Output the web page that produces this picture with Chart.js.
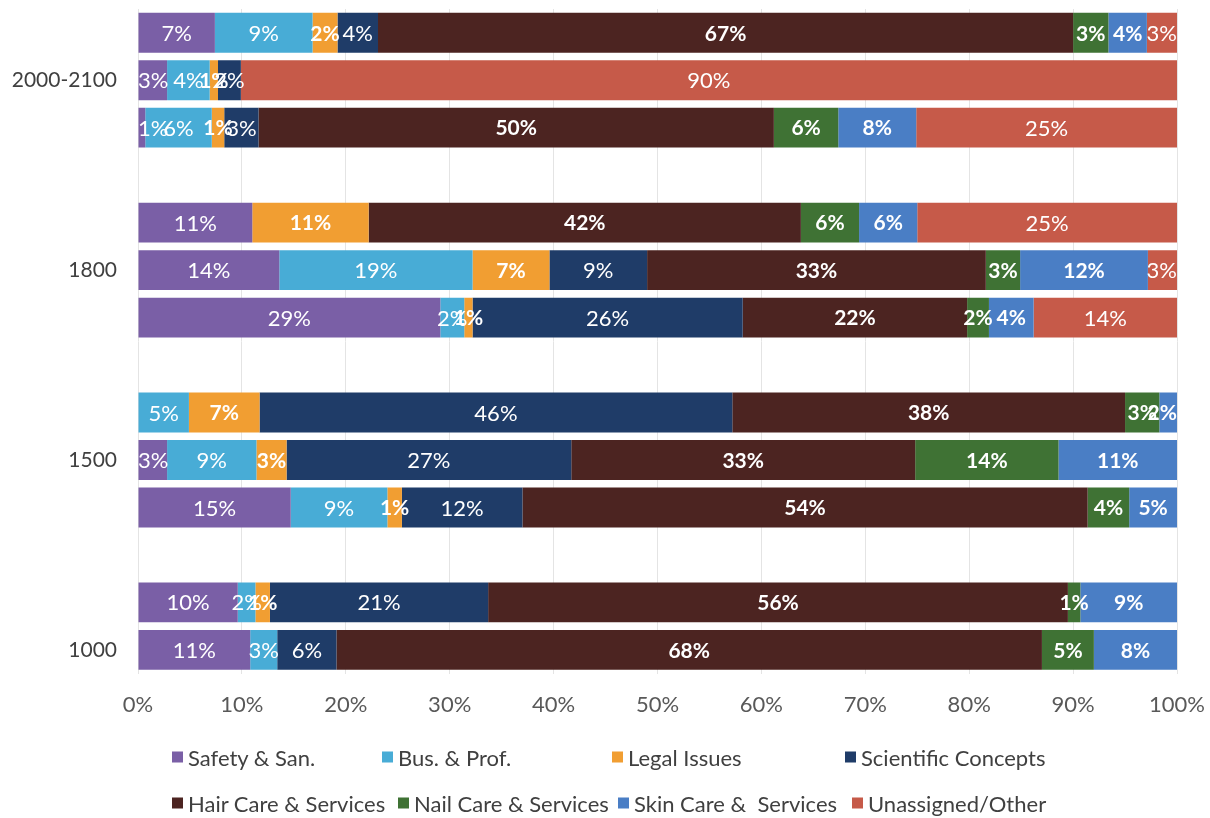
<!DOCTYPE html>
<html>
<head>
<meta charset="utf-8">
<script src="https://cdn.jsdelivr.net/npm/chart.js@4.4.1/dist/chart.umd.min.js"></script>
<style>
    html, body { margin: 0; padding: 0; background: #ffffff; }
    #wrap { position: relative; width: 1210px; height: 818px; overflow: hidden; }
    #legenda { position: absolute; left: 0; top: 0; width: 1210px; height: 818px; pointer-events: none; }
    .leg-item { position: absolute; display: flex; align-items: center; font-family: Lato, 'Open Sans', sans-serif; font-size: 22px; color: #404040; white-space: pre; transform: translateY(-50%); }
    .leg-box { width: 11px; height: 11px; margin-right: 5px; }
</style>
</head>
<body>
<div id="wrap">
    <canvas id="grafico" width="1210" height="818"></canvas>
    <div id="legenda"></div>
</div>
<script>
// categorias (faixas vazias separam os grupos)
const categorias = ['', '2000-2100', '', '', '', '1800', '', '', '', '1500', '', '', '', '1000'];

// participação (%) de cada tema por barra
const safety     = [7.4, 2.8, 0.7, null, 11.0, 13.6, 29.1, null, 0,    2.8,  14.7, null, 9.6,  10.8];
const business   = [9.4, 4.1, 6.4, null, 0,    18.6, 2.3,  null, 4.9,  8.6,  9.3,  null, 1.7,  2.6];
const legal      = [2.4, 0.8, 1.2, null, 11.2, 7.4,  0.8,  null, 6.8,  2.9,  1.4,  null, 1.4,  0];
const scientific = [3.9, 2.2, 3.3, null, 0,    9.4,  26.0, null, 45.5, 27.4, 11.6, null, 21.0, 5.7];
const hair       = [66.9, 0,  49.6, null, 41.6, 32.6, 21.6, null, 37.8, 33.1, 54.4, null, 55.8, 67.9];
const nail       = [3.4, 0,   6.2, null, 5.6,  3.3,  2.1,  null, 3.3,  13.8, 4.0,  null, 1.2,  5.0];
const skin       = [3.7, 0,   7.5, null, 5.6,  12.3, 4.3,  null, 1.7,  11.4, 4.6,  null, 9.3,  8.0];
const other      = [2.9, 90.1, 25.1, null, 25.0, 2.8, 13.8, null, 0,   0,    0,    null, 0,    0];

const tickPct = [0, 10, 20, 30, 40, 50, 60, 70, 80, 90, 100];

const series = [
    { label: 'Safety & San.',         data: safety,     cor: '#7a5fa6', negrito: false },
    { label: 'Bus. & Prof.',          data: business,   cor: '#48acd6', negrito: false },
    { label: 'Legal Issues',          data: legal,      cor: '#f19e32', negrito: true },
    { label: 'Scientific Concepts',   data: scientific, cor: '#1f3c68', negrito: false },
    { label: 'Hair Care & Services',  data: hair,       cor: '#4c2421', negrito: true },
    { label: 'Nail Care & Services',  data: nail,       cor: '#3f7234', negrito: true },
    { label: 'Skin Care &  Services', data: skin,       cor: '#4a7ec5', negrito: true },
    { label: 'Unassigned/Other',      data: other,      cor: '#c65a49', negrito: false }
];

const FONTE = "Lato, 'Open Sans', sans-serif";

// rótulos de porcentagem no meio de cada segmento (sem sair da área do gráfico)
const rotulosPlugin = {
    id: 'rotulos',
    afterDatasetsDraw(chart) {
        const ctx = chart.ctx;
        const area = chart.chartArea;
        ctx.save();
        ctx.textAlign = 'center';
        ctx.textBaseline = 'middle';
        ctx.fillStyle = '#ffffff';
        chart.data.datasets.forEach((ds, i) => {
            const meta = chart.getDatasetMeta(i);
            ctx.font = series[i].negrito ? 'bold 21px ' + FONTE : '22px ' + FONTE;
            meta.data.forEach((bar, j) => {
                const v = ds.data[j];
                if (v == null || v <= 0) return;
                const txt = Math.round(v) + '%';
                const meia = ctx.measureText(txt).width / 2;
                let x = (bar.x + bar.base) / 2;
                x = Math.max(x, area.left + meia);
                x = Math.min(x, area.right - meia);
                ctx.fillText(txt, x, bar.y + 1);
            });
        });
        ctx.restore();
    }
};

const chart = new Chart(document.getElementById('grafico'), {
    type: 'bar',
    data: {
        labels: categorias,
        datasets: series.map(s => ({
            label: s.label,
            data: s.data,
            backgroundColor: s.cor,
            borderWidth: 0,
            categoryPercentage: 1,
            barPercentage: 0.84
        }))
    },
    options: {
        indexAxis: 'y',
        responsive: false,
        animation: false,
        devicePixelRatio: 1,
        layout: { padding: { top: 9, right: 33, bottom: 82, left: 0 } },
        plugins: { legend: { display: false }, tooltip: { enabled: false } },
        scales: {
            x: {
                stacked: true,
                min: 0,
                max: 100,
                afterBuildTicks: (axis) => { axis.ticks = tickPct.map(v => ({ value: v })); },
                afterFit: (axis) => { axis.paddingLeft = 0; axis.paddingRight = 0; },
                ticks: {
                    callback: v => v + '%',
                    color: '#595959',
                    font: { family: FONTE, size: 22 },
                    padding: 18,
                    maxRotation: 0
                },
                grid: { color: '#e4e4e4', drawTicks: false },
                border: { display: false }
            },
            y: {
                stacked: true,
                ticks: {
                    color: '#404040',
                    font: { family: FONTE, size: 21 },
                    padding: 21,
                    autoSkip: false
                },
                grid: { display: false, drawTicks: false },
                border: { display: false },
                afterFit: (axis) => { axis.width = 138; axis.paddingTop = 0; axis.paddingBottom = 0; }
            }
        }
    },
    plugins: [rotulosPlugin]
});

// legenda em duas linhas
const posLegenda = [
    [172, 757], [382, 757], [612, 757], [845, 757],
    [172, 803], [398, 803], [618, 803], [852, 803]
];
const divLeg = document.getElementById('legenda');
chart.data.datasets.forEach((ds, i) => {
    const item = document.createElement('div');
    item.className = 'leg-item';
    item.style.left = posLegenda[i][0] + 'px';
    item.style.top = posLegenda[i][1] + 'px';
    item.innerHTML = `<span class="leg-box" style="background:${ds.backgroundColor}"></span><span>${ds.label.replace(/&/g, '&amp;')}</span>`;
    divLeg.appendChild(item);
});
</script>
</body>
</html>
